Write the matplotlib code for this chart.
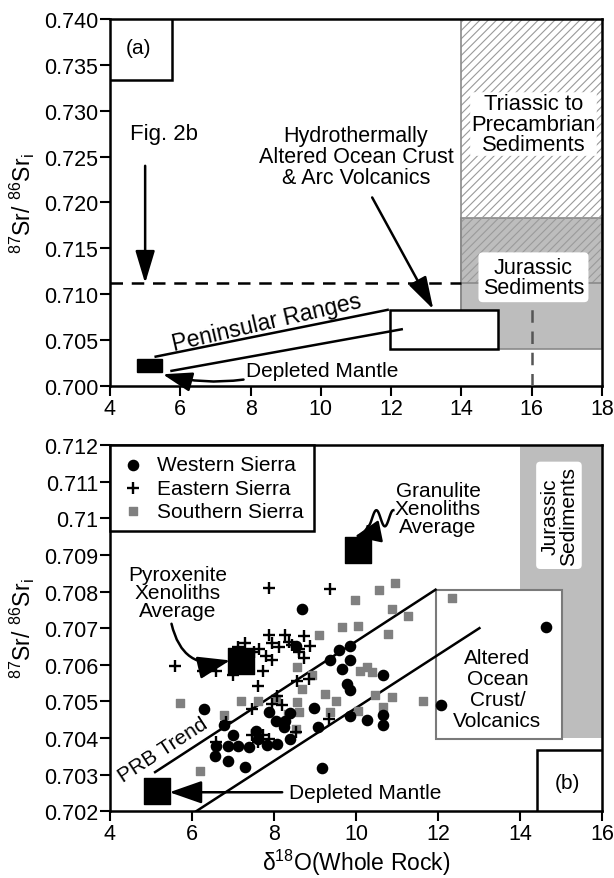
import matplotlib
matplotlib.use('Agg')
import matplotlib.pyplot as plt
from matplotlib.patches import Rectangle
from matplotlib.ticker import FixedLocator, FixedFormatter
import numpy as np

plt.rcParams['font.family'] = ['Liberation Sans', 'DejaVu Sans']
plt.rcParams['mathtext.default'] = 'regular'
plt.rcParams['hatch.linewidth'] = 0.8

# ---------------- data ----------------
top_xticks = [4, 6, 8, 10, 12, 14, 16, 18]
top_yticks = [0.700, 0.705, 0.710, 0.715, 0.720, 0.725, 0.730, 0.735, 0.740]
bot_xticks = [4, 6, 8, 10, 12, 14, 16]
bot_yticks = [0.702, 0.703, 0.704, 0.705, 0.706, 0.707, 0.708, 0.709, 0.710, 0.711, 0.712]
bot_ylabels = ['0.702', '0.703', '0.704', '0.705', '0.706', '0.707', '0.708', '0.709', '0.71', '0.711', '0.712']

western_x = [6.30, 6.78, 6.99, 6.59, 6.87, 7.11, 6.57, 6.89, 7.30, 7.39, 7.56, 7.60, 7.84, 8.08,
             8.40, 8.24, 8.04, 8.28, 7.88, 8.40, 8.97, 9.08, 9.17, 8.69, 8.53, 9.37, 9.58, 9.86,
             9.86, 9.66, 10.67, 9.78, 9.86, 9.86, 10.26, 10.67, 10.67, 12.07, 14.63]
western_y = [0.70480, 0.70436, 0.70408, 0.70379, 0.70377, 0.70377, 0.70352, 0.70338, 0.70320,
             0.70375, 0.70420, 0.70398, 0.70380, 0.70384, 0.70398, 0.70430, 0.70447, 0.70447,
             0.70470, 0.70468, 0.70481, 0.70431, 0.70318, 0.70752, 0.70652, 0.70612, 0.70640,
             0.70650, 0.70612, 0.70589, 0.70572, 0.70548, 0.70532, 0.70461, 0.70450, 0.70463,
             0.70436, 0.70490, 0.70703]

eastern_x = [5.58, 6.27, 6.59, 6.99, 7.11, 7.62, 7.88, 9.37, 7.88, 8.28, 8.36, 8.73, 8.89, 8.12,
             8.44, 8.61, 8.73, 7.64, 7.80, 7.96, 7.72, 7.40, 7.50, 8.57, 8.85, 8.08, 8.20, 7.96,
             7.47, 6.83, 7.72, 7.47, 7.88, 6.59, 8.53, 9.33, 7.60, 8.61, 7.30, 7.95]
eastern_y = [0.70598, 0.70582, 0.70584, 0.70572, 0.70648, 0.70543, 0.70809, 0.70808, 0.70680,
             0.70680, 0.70662, 0.70678, 0.70652, 0.70648, 0.70653, 0.70644, 0.70618, 0.70644,
             0.70625, 0.70612, 0.70584, 0.70620, 0.70635, 0.70557, 0.70562, 0.70516, 0.70489,
             0.70493, 0.70480, 0.70443, 0.70407, 0.70407, 0.70398, 0.70389, 0.70416, 0.70452,
             0.70390, 0.70634, 0.70660, 0.70660]

southern_x = [5.70, 6.20, 6.79, 7.19, 7.60, 8.04, 8.35, 8.57, 8.57, 8.93, 9.09, 9.67, 10.06, 9.98,
              10.56, 10.95, 12.35, 10.87, 11.26, 10.77, 9.25, 9.50, 10.47, 10.87, 8.61, 9.37,
              10.06, 10.67, 11.64, 8.69, 10.10, 10.26, 10.38, 8.53]
southern_y = [0.70496, 0.70309, 0.70462, 0.70500, 0.70502, 0.70507, 0.70466, 0.70498, 0.70593,
              0.70571, 0.70680, 0.70703, 0.70705, 0.70778, 0.70803, 0.70823, 0.70782, 0.70753,
              0.70733, 0.70684, 0.70521, 0.70500, 0.70518, 0.70511, 0.70470, 0.70470, 0.70475,
              0.70484, 0.70500, 0.70534, 0.70584, 0.70593, 0.70581, 0.70425]

# averages / end members
pyroxenite = (7.20, 0.70610)
granulite = (10.04, 0.70913)
depleted_b = (5.15, 0.70255)

prb_upper = ([5.10, 11.94], [0.70307, 0.70805])
prb_lower = ([6.10, 13.01], [0.70200, 0.70700])

FS = 15
TICK_FS = 15.5

fig = plt.figure(figsize=(6.14, 8.79), dpi=100)
ax1 = fig.add_axes([110/614, 1-387/879, 492/614, 367/879])
ax2 = fig.add_axes([110/614, 1-812.3/879, 492/614, 366.3/879])

for ax in (ax1, ax2):
    for s in ax.spines.values():
        s.set_linewidth(1.8)
    ax.tick_params(direction='out', length=7, width=1.5, labelsize=TICK_FS, pad=1.5,
                   top=False, right=False)

# ---------------- top panel (a) ----------------
ax1.set_xlim(4, 18)
ax1.set_ylim(0.700, 0.740)
ax1.set_xticks(top_xticks)
ax1.set_yticks(top_yticks)
ax1.set_yticklabels(['%.3f' % v for v in top_yticks])

# gray Jurassic region
ax1.add_patch(Rectangle((14, 0.7040), 4, 0.01436, facecolor='#bdbdbd', edgecolor='#8a8a8a', lw=1.2, zorder=1))
# hatched Triassic-Precambrian region
ax1.add_patch(Rectangle((14, 0.71120), 4, 0.0288, facecolor='none', edgecolor='#9a9a9a', hatch='////', lw=0, zorder=2))
ax1.plot([14, 14], [0.7040, 0.740], color='#8a8a8a', lw=1.2, zorder=2)
ax1.plot([14, 18], [0.71120, 0.71120], color='#8a8a8a', lw=1.2, zorder=2)

# dashed Fig 2b outline
ax1.plot([4, 14], [0.71120, 0.71120], color='black', lw=1.8, ls=(0, (5, 3.5)), zorder=3)
ax1.plot([16, 16], [0.700, 0.7084], color='#555555', lw=1.8, ls=(0, (5, 3.5)), zorder=3)

# (a) label box
ax1.add_patch(Rectangle((4, 0.73335), 1.77, 0.00665, facecolor='white', edgecolor='black', lw=1.8, zorder=4))
ax1.text(4.82, 0.7369, '(a)', fontsize=FS, ha='center', va='center', zorder=5)

# altered ocean crust box
ax1.add_patch(Rectangle((11.97, 0.7040), 3.08, 0.0043, facecolor='white', edgecolor='black', lw=1.8, zorder=4))
# depleted mantle box
ax1.add_patch(Rectangle((4.78, 0.7015), 0.71, 0.0014, facecolor='black', edgecolor='black', lw=1, zorder=4))

# peninsular ranges lines
ax1.plot([5.30, 11.90], [0.70320, 0.70830], color='black', lw=1.8, zorder=4)
ax1.plot([5.75, 12.30], [0.70165, 0.70618], color='black', lw=1.8, zorder=4)
ax1.text(8.45, 0.70700, 'Peninsular Ranges', fontsize=16.5, rotation=13,
         ha='center', va='center', rotation_mode='anchor', zorder=5)

ax1.annotate('', xy=(5.50, 0.70128), xytext=(7.80, 0.70070),
             arrowprops=dict(arrowstyle='-|>,head_length=0.9,head_width=0.3', color='black', lw=1.8,
                             connectionstyle='arc3,rad=-0.1', mutation_scale=20,
                             shrinkA=0, shrinkB=0), zorder=5)
ax1.text(10.05, 0.70170, 'Depleted Mantle', fontsize=FS, ha='center', va='center', zorder=5)

ax1.text(5.54, 0.7275, 'Fig. 2b', fontsize=16, ha='center', va='center')
ax1.annotate('', xy=(5.0, 0.7112), xytext=(5.0, 0.7240),
             arrowprops=dict(arrowstyle='-|>,head_length=1.0,head_width=0.3', color='black', lw=1.8,
                             mutation_scale=20, shrinkA=0, shrinkB=0))

ax1.text(11.0, 0.7250, 'Hydrothermally\nAltered Ocean Crust\n& Arc Volcanics', fontsize=15.5,
         ha='center', va='center', linespacing=1.0)
ax1.annotate('', xy=(13.2, 0.70836), xytext=(11.46, 0.72055),
             arrowprops=dict(arrowstyle='-|>,head_length=1.0,head_width=0.3', color='black', lw=1.8,
                             mutation_scale=20, shrinkA=0, shrinkB=0), zorder=6)

ax1.text(16.05, 0.72855, 'Triassic to\nPrecambrian\nSediments', fontsize=15.8, ha='center', va='center',
         linespacing=0.95, zorder=6,
         bbox=dict(boxstyle='round,pad=0.05', fc='white', ec='none'))
ax1.text(16.05, 0.71185, 'Jurassic\nSediments', fontsize=15.5, ha='center', va='center',
         linespacing=0.95, zorder=6,
         bbox=dict(boxstyle='round,pad=0.2', fc='white', ec='none'))

ax1.set_ylabel(r'$^{87}$Sr/ $^{86}$Sr$_{i}$', fontsize=16.5, labelpad=5)

# ---------------- bottom panel (b) ----------------
ax2.set_xlim(4, 16)
ax2.set_ylim(0.702, 0.712)
ax2.xaxis.set_major_locator(FixedLocator(bot_xticks))
ax2.yaxis.set_major_locator(FixedLocator(bot_yticks))
ax2.yaxis.set_major_formatter(FixedFormatter(bot_ylabels))

ax2.add_patch(Rectangle((14, 0.704), 2, 0.008, facecolor='#bdbdbd', edgecolor='none', zorder=0))
ax2.text(14.95, 0.71008, 'Jurassic\nSediments', fontsize=15, rotation=90, ha='center', va='center',
         linespacing=0.95, zorder=6, bbox=dict(boxstyle='round,pad=0.2', fc='white', ec='none'))

ax2.add_patch(Rectangle((11.94, 0.70398), 3.09, 0.00407, facecolor='white', edgecolor='#7a7a7a', lw=1.5, zorder=1))
ax2.text(13.45, 0.70534, 'Altered\nOcean\nCrust/\nVolcanics', fontsize=FS, ha='center', va='center',
         linespacing=1.15, zorder=6)

ax2.add_patch(Rectangle((14.42, 0.702), 1.58, 0.00166, facecolor='white', edgecolor='black', lw=1.8, zorder=6))
ax2.text(15.15, 0.70279, '(b)', fontsize=FS, ha='center', va='center', zorder=7)

ax2.plot(prb_upper[0], prb_upper[1], color='black', lw=1.8, zorder=3)
ax2.plot(prb_lower[0], prb_lower[1], color='black', lw=1.8, zorder=3)
ax2.text(5.30, 0.70368, 'PRB Trend', fontsize=FS, rotation=33, ha='center', va='center',
         rotation_mode='anchor', zorder=6)

h3 = ax2.scatter(southern_x, southern_y, marker='s', s=38, color='#808080', zorder=4, label='Southern Sierra')
h1 = ax2.scatter(western_x, western_y, marker='o', s=54, color='black', zorder=4, label='Western Sierra')
h2 = ax2.scatter(eastern_x, eastern_y, marker='+', s=64, color='black', linewidths=1.7, zorder=4, label='Eastern Sierra')

ax2.scatter([pyroxenite[0]], [pyroxenite[1]], marker='s', s=330, color='black', zorder=5)
ax2.scatter([granulite[0]], [granulite[1]], marker='s', s=350, color='black', zorder=5)
ax2.scatter([depleted_b[0]], [depleted_b[1]], marker='s', s=350, color='black', zorder=5)

ax2.text(5.66, 0.70798, 'Pyroxenite\nXenoliths\nAverage', fontsize=FS, ha='center', va='center',
         linespacing=0.95, zorder=6)
ax2.annotate('', xy=(6.93, 0.70612), xytext=(5.50, 0.70712),
             arrowprops=dict(arrowstyle='-|>,head_length=1.0,head_width=0.35', color='black', lw=1.8,
                             connectionstyle='arc3,rad=0.5', mutation_scale=20, shrinkA=0, shrinkB=0),
             zorder=7)

ax2.text(12.0, 0.71026, 'Granulite\nXenoliths\nAverage', fontsize=FS, ha='center', va='center',
         linespacing=0.95, zorder=6)
t = np.linspace(0, 1, 80)
wave_x = 10.91 - 0.62 * t
wave_y = 0.71000 + 0.00022 * np.sin(2 * np.pi * (1.5 * t + 0.25))
ax2.plot(wave_x, wave_y, color='black', lw=1.8, zorder=6)
ax2.annotate('', xy=(9.97, 0.70950), xytext=(wave_x[-1], wave_y[-1]),
             arrowprops=dict(arrowstyle='-|>,head_length=0.8,head_width=0.35', color='black', lw=1.8,
                             connectionstyle='arc3,rad=-0.25', mutation_scale=20, shrinkA=0, shrinkB=0),
             zorder=7)

ax2.annotate('', xy=(5.45, 0.70252), xytext=(8.20, 0.70252),
             arrowprops=dict(arrowstyle='-|>,head_length=1.0,head_width=0.35', color='black', lw=1.8,
                             mutation_scale=20, shrinkA=0, shrinkB=0), zorder=7)
ax2.text(10.22, 0.70252, 'Depleted Mantle', fontsize=FS, ha='center', va='center', zorder=6)

leg = ax2.legend(handles=[h1, h2, h3], loc='upper left', bbox_to_anchor=(0, 1), borderaxespad=0,
                 frameon=True, fancybox=False, edgecolor='black', framealpha=1, fontsize=FS,
                 handlelength=1.2, handletextpad=0.55, borderpad=0.5, labelspacing=0.2)
leg.get_frame().set_linewidth(1.8)
leg.set_zorder(8)

ax2.set_ylabel(r'$^{87}$Sr/ $^{86}$Sr$_{i}$', fontsize=16.5, labelpad=5)
ax2.set_xlabel(r'$\delta^{18}$O(Whole Rock)', fontsize=16.5, labelpad=2)

fig.savefig('out.png', dpi=100)
